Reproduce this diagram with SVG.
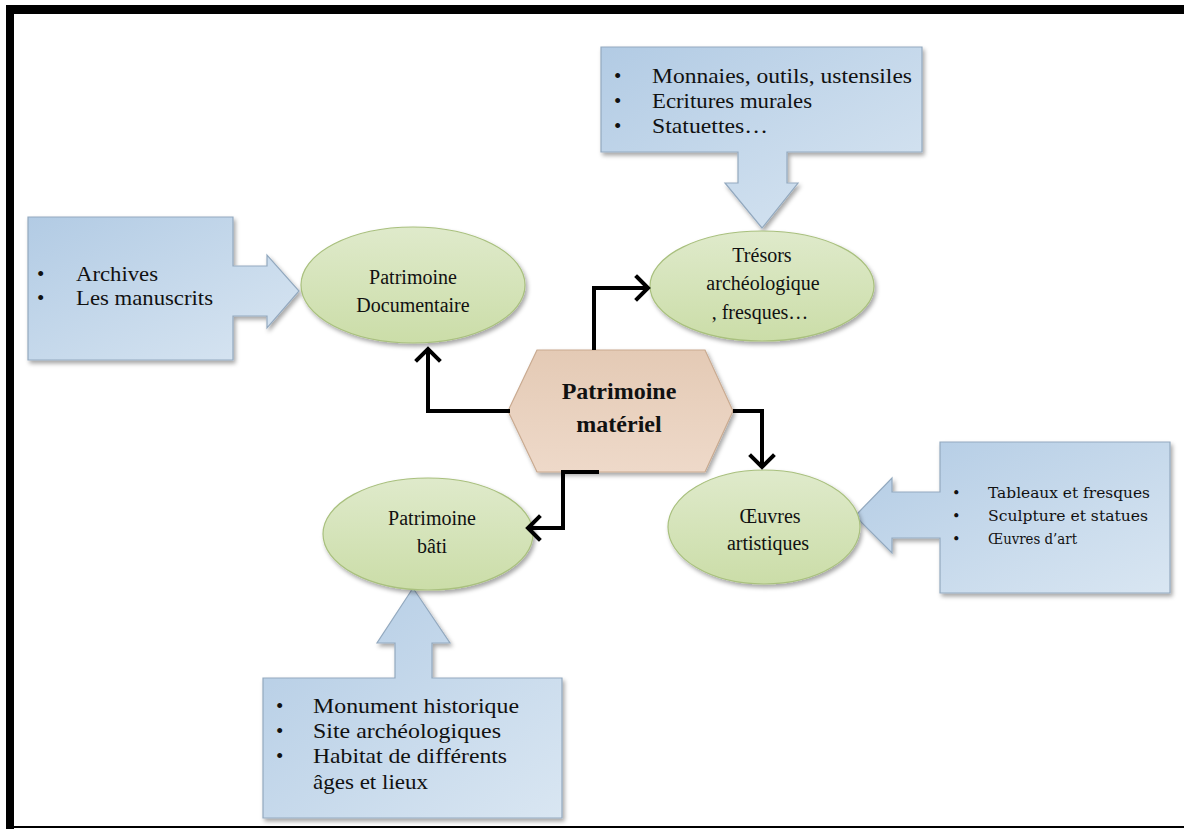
<svg xmlns="http://www.w3.org/2000/svg" width="1184" height="829" viewBox="0 0 1184 829">
  <defs>
    <linearGradient id="gBlue" x1="0" y1="0" x2="1" y2="1">
      <stop offset="0" stop-color="#b2cbe4"/>
      <stop offset="1" stop-color="#d9e6f2"/>
    </linearGradient>
    <linearGradient id="gGreen" x1="0" y1="0" x2="0" y2="1">
      <stop offset="0" stop-color="#dfeacb"/>
      <stop offset="1" stop-color="#cbdda8"/>
    </linearGradient>
    <linearGradient id="gTan" x1="0" y1="0" x2="0" y2="1">
      <stop offset="0" stop-color="#e4cab5"/>
      <stop offset="1" stop-color="#eed9c9"/>
    </linearGradient>
    <filter id="shadow" x="-10%" y="-10%" width="125%" height="130%">
      <feDropShadow dx="2" dy="3" stdDeviation="2" flood-color="#000" flood-opacity="0.35"/>
    </filter>
    <marker id="chev" markerUnits="userSpaceOnUse" markerWidth="30" markerHeight="30" viewBox="0 0 30 30" refX="15" refY="15" orient="auto">
      <path d="M4,4 L15,15 L4,26" fill="none" stroke="#000" stroke-width="4" stroke-linecap="square"/>
    </marker>
  </defs>
  <style>
    .callout { fill: url(#gBlue); stroke: #93a9bf; stroke-width: 1.2; filter: url(#shadow); }
    .oval { fill: url(#gGreen); stroke: #a9c07e; stroke-width: 1.2; filter: url(#shadow); }
    .hex { fill: url(#gTan); stroke: #c9aa90; stroke-width: 1.2; filter: url(#shadow); }
    .t { font-family: "Liberation Serif", "Times New Roman", serif; font-size: 21px; fill: #111; }
    .o { font-family: "Liberation Serif", "Times New Roman", serif; font-size: 20px; fill: #111; text-anchor: middle; }
    .r { font-family: "DejaVu Serif", "Liberation Serif", serif; font-size: 14.5px; fill: #111; }
    .b { font-family: "Liberation Serif", "Times New Roman", serif; font-size: 24px; font-weight: bold; fill: #111; text-anchor: middle; }
    .conn { fill: none; stroke: #000; stroke-width: 4; marker-end: url(#chev); }
  </style>

  <rect width="1184" height="829" fill="#fff"/>

  <!-- page frame -->
  <rect x="6" y="5" width="1178" height="9" fill="#000"/>
  <rect x="6" y="5" width="8" height="824" fill="#000"/>
  <rect x="6" y="826" width="1178" height="2" fill="#000"/>

  <!-- upper callout: archaeological objects -->
  <g id="callout-tresors">
    <path class="callout" d="M601,47 H922 V152 H787 V183 H798 L762,228 L725,183 H738 V152 H601 Z"/>
    <text class="t" x="614" y="83">•</text>
    <text class="t" x="652" y="83" textLength="260" lengthAdjust="spacingAndGlyphs">Monnaies, outils, ustensiles</text>
    <text class="t" x="614" y="108">•</text>
    <text class="t" x="652" y="108" textLength="160" lengthAdjust="spacingAndGlyphs">Ecritures murales</text>
    <text class="t" x="614" y="133">•</text>
    <text class="t" x="652" y="133" textLength="116" lengthAdjust="spacingAndGlyphs">Statuettes…</text>
  </g>

  <!-- left callout: documents -->
  <g id="callout-documentaire">
    <path class="callout" d="M28,217 H233 V266 H267 V255 L299,291 L267,328 V316 H233 V360 H28 Z"/>
    <text class="t" x="37" y="281">•</text>
    <text class="t" x="76" y="281" textLength="82" lengthAdjust="spacingAndGlyphs">Archives</text>
    <text class="t" x="37" y="305">•</text>
    <text class="t" x="76" y="305" textLength="137" lengthAdjust="spacingAndGlyphs">Les manuscrits</text>
  </g>

  <!-- right callout: works of art -->
  <g id="callout-oeuvres">
    <path class="callout" d="M940,442 H1170 V593 H940 V538 H892 V553 L855,516 L892,478 V492 H940 Z"/>
    <text class="r" x="952" y="498">•</text>
    <text class="r" x="988" y="498" textLength="162" lengthAdjust="spacingAndGlyphs">Tableaux et fresques</text>
    <text class="r" x="952" y="521">•</text>
    <text class="r" x="988" y="521" textLength="160" lengthAdjust="spacingAndGlyphs">Sculpture et statues</text>
    <text class="r" x="952" y="544">•</text>
    <text class="r" x="988" y="544" textLength="89" lengthAdjust="spacingAndGlyphs">Œuvres d’art</text>
  </g>

  <!-- bottom callout: built heritage -->
  <g id="callout-bati">
    <path class="callout" d="M263,678 H395 V643 H377 L413,588 L450,643 H432 V678 H562 V818 H263 Z"/>
    <text class="t" x="276" y="713">•</text>
    <text class="t" x="313" y="713" textLength="206" lengthAdjust="spacingAndGlyphs">Monument historique</text>
    <text class="t" x="276" y="738">•</text>
    <text class="t" x="313" y="738" textLength="188" lengthAdjust="spacingAndGlyphs">Site archéologiques</text>
    <text class="t" x="276" y="763">•</text>
    <text class="t" x="313" y="763" textLength="194" lengthAdjust="spacingAndGlyphs">Habitat de différents</text>
    <text class="t" x="313" y="789" textLength="115" lengthAdjust="spacingAndGlyphs">âges et lieux</text>
  </g>

  <!-- category ovals -->
  <g id="node-documentaire">
    <ellipse class="oval" cx="413" cy="285" rx="112" ry="58"/>
    <text class="o" x="413" y="284">Patrimoine</text>
    <text class="o" x="413" y="312">Documentaire</text>
  </g>

  <g id="node-tresors">
    <ellipse class="oval" cx="762" cy="286" rx="112" ry="55"/>
    <text class="o" x="762" y="262">Trésors</text>
    <text class="o" x="763" y="290">archéologique</text>
    <text class="o" x="760" y="319">, fresques…</text>
  </g>

  <g id="node-bati">
    <ellipse class="oval" cx="428" cy="534" rx="105" ry="56"/>
    <text class="o" x="432" y="525">Patrimoine</text>
    <text class="o" x="432" y="553">bâti</text>
  </g>

  <g id="node-oeuvres">
    <ellipse class="oval" cx="764" cy="527" rx="96" ry="57"/>
    <text class="o" x="770" y="523">Œuvres</text>
    <text class="o" x="768" y="550">artistiques</text>
  </g>

  <!-- central hexagon -->
  <g id="node-materiel">
    <polygon class="hex" points="508,411 537,350 705,350 733,411 705,472 537,472"/>
    <text class="b" x="619" y="399">Patrimoine</text>
    <text class="b" x="619" y="432">matériel</text>
  </g>

  <!-- connectors from the hexagon to each oval -->
  <g id="connectors">
    <path class="conn" d="M510,411 H428 V349"/>
    <path class="conn" d="M594,350 V288 H648"/>
    <path class="conn" d="M733,411 H762 V467"/>
    <path class="conn" d="M599,472 H563 V528 H528"/>
  </g>
</svg>
